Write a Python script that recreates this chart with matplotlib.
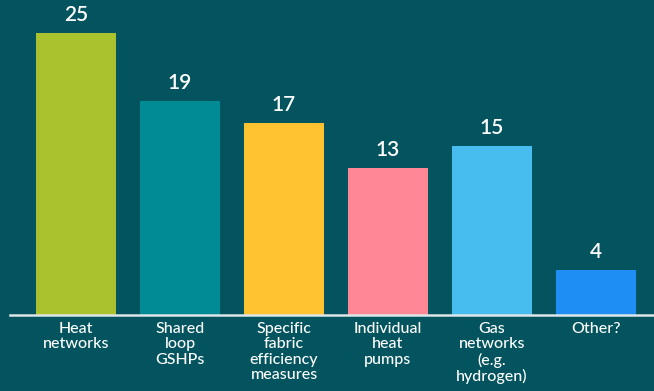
import matplotlib.pyplot as plt

categories = ['Heat\nnetworks', 'Shared\nloop\nGSHPs', 'Specific\nfabric\nefficiency\nmeasures',
              'Individual\nheat\npumps', 'Gas\nnetworks\n(e.g.\nhydrogen)', 'Other?']
values = [25, 19, 17, 13, 15, 4]
colors = ['#A9C22E', '#008B95', '#FFC230', '#FF8897', '#47BDEF', '#1E8EF5']

bg = '#03545E'
plt.rcParams['font.family'] = ['Lato', 'DejaVu Sans']

fig = plt.figure(figsize=(6.54, 3.91), dpi=100, facecolor=bg)
ax = fig.add_axes([10 / 654, 76 / 391, 644 / 654, 315 / 391])
ax.set_facecolor(bg)

x = list(range(len(values)))
ax.bar(x, values, width=0.77, color=colors, zorder=2)

for xi, v in zip(x, values):
    ax.text(xi, v + 0.7, str(v), ha='center', va='bottom', color='white',
            fontsize=15, fontweight='semibold')

ax.set_xlim(-0.635, 5.558)
ax.set_ylim(0, 27.93)

for s in ['top', 'right', 'left']:
    ax.spines[s].set_visible(False)
ax.spines['bottom'].set_color('#DDE6E8')
ax.spines['bottom'].set_linewidth(1.8)

ax.set_yticks([])
ax.set_xticks(x)
ax.set_xticklabels(categories, color='white', fontsize=11.5, linespacing=1.12,
                   fontweight='medium')
ax.tick_params(axis='x', length=0, pad=5)

fig.savefig('out.png', dpi=100, facecolor=bg)
